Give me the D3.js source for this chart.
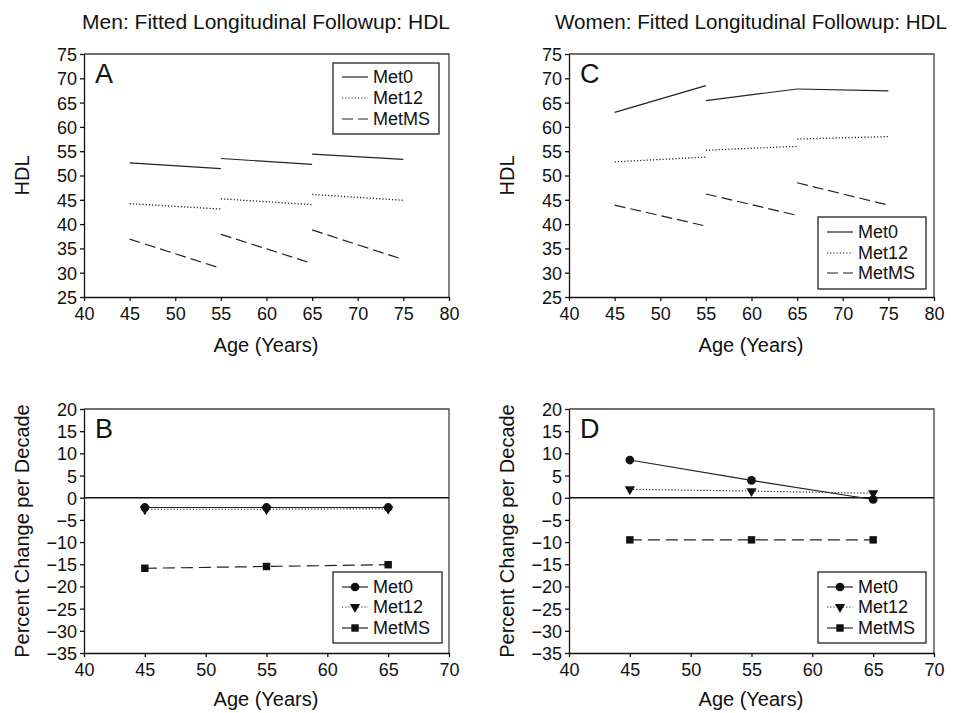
<!DOCTYPE html>
<html><head><meta charset="utf-8">
<script src="https://cdn.jsdelivr.net/npm/d3@7"></script>
<style>
body{margin:0;background:#fff;}
svg{display:block;font-family:Arial,"Liberation Sans",sans-serif;}
</style></head>
<body><svg id="c" width="954" height="713"></svg>
<script>
// ---------- data ----------
const segStartAge = [45, 55, 65];
const segEndAge = [55, 65, 75];
const menMet0Start = [52.6, 53.5, 54.4];
const menMet0End = [51.4, 52.3, 53.3];
const menMet12Start = [44.2, 45.2, 46.1];
const menMet12End = [43.1, 44.0, 44.9];
const menMetMSStart = [36.9, 37.9, 38.8];
const menMetMSEnd = [30.9, 31.9, 32.7];
const womenMet0Start = [63.0, 65.4, 67.8];
const womenMet0End = [68.5, 67.8, 67.4];
const womenMet12Start = [52.8, 55.2, 57.5];
const womenMet12End = [53.8, 56.0, 58.0];
const womenMetMSStart = [43.9, 46.2, 48.5];
const womenMetMSEnd = [39.6, 41.8, 43.9];
const decadeAges = [45, 55, 65];
const menPctMet0 = [-2.2, -2.2, -2.2];
const menPctMet12 = [-2.6, -2.6, -2.5];
const menPctMetMS = [-15.9, -15.5, -15.1];
const womenPctMet0 = [8.5, 3.9, -0.4];
const womenPctMet12 = [1.9, 1.5, 1.0];
const womenPctMetMS = [-9.5, -9.5, -9.5];
const seriesNames = ["Met0", "Met12", "MetMS"];
const hdlTicks = [25, 30, 35, 40, 45, 50, 55, 60, 65, 70, 75];
const pctTicks = [-35, -30, -25, -20, -15, -10, -5, 0, 5, 10, 15, 20];
const ageTicksTop = [40, 45, 50, 55, 60, 65, 70, 75, 80];
const ageTicksBottom = [40, 45, 50, 55, 60, 65, 70];
const titles = ["Men: Fitted Longitudinal Followup: HDL", "Women: Fitted Longitudinal Followup: HDL"];

// ---------- styles ----------
const dash = {Met0: null, Met12: "1.2,2", MetMS: "11,5"};
const ink = "#222";
const svg = d3.select("#c");

function frame(px, py, w, h, xDom, yDom, xT, yT) {
  const g = svg.append("g").attr("transform", `translate(${px},${py})`);
  const x = d3.scaleLinear().domain(xDom).range([0, w]);
  const y = d3.scaleLinear().domain(yDom).range([h, 0]);
  g.append("path").attr("d", `M0,0H${w}V${h}`).attr("fill", "none").attr("stroke", "#444").attr("stroke-width", 1.3);
  const ax = g.append("g").attr("transform", `translate(0,${h})`)
    .call(d3.axisBottom(x).tickValues(xT).tickSize(4).tickSizeOuter(0).tickPadding(6));
  const ay = g.append("g").call(d3.axisLeft(y).tickValues(yT).tickSize(4).tickSizeOuter(0).tickPadding(3));
  [ax, ay].forEach(a => {
    a.selectAll("path,line").attr("stroke", "#111").attr("stroke-width", 1.3);
    a.selectAll("text").attr("font-size", 18).attr("fill", "#111");
  });
  ay.selectAll("text").attr("dy", "0.36em");
  return {g, x, y};
}

function letter(p, t) {
  p.g.append("text").attr("x", 11).attr("y", 29).attr("font-size", 27).attr("fill", "#111").text(t);
}

function segmentsPanel(p, sets) {
  sets.forEach(([name, s, e]) => {
    segStartAge.forEach((a, i) => {
      p.g.append("line")
        .attr("x1", p.x(a)).attr("y1", p.y(s[i]))
        .attr("x2", p.x(segEndAge[i])).attr("y2", p.y(e[i]))
        .attr("stroke", ink).attr("stroke-width", name === "Met12" ? 1.3 : 1.2)
        .attr("stroke-dasharray", dash[name]);
    });
  });
}

const sym = {Met0: d3.symbolCircle, Met12: d3.symbolTriangle, MetMS: d3.symbolSquare};
const symSize = {Met0: 60, Met12: 45, MetMS: 55};
function marker(g, name, cx, cy) {
  g.append("path").attr("d", d3.symbol(sym[name], symSize[name])())
    .attr("transform", `translate(${cx},${cy})` + (name === "Met12" ? " rotate(180)" : ""))
    .attr("fill", "#111");
}

function pctPanel(p, sets) {
  p.g.append("line").attr("x1", 0).attr("x2", p.x.range()[1]).attr("y1", p.y(0)).attr("y2", p.y(0))
    .attr("stroke", "#111").attr("stroke-width", 1.3);
  const line = d3.line().x((d, i) => p.x(decadeAges[i])).y(d => p.y(d));
  sets.forEach(([name, v]) => {
    p.g.append("path").attr("d", line(v)).attr("fill", "none").attr("stroke", ink)
      .attr("stroke-width", 1.2).attr("stroke-dasharray", name === "MetMS" ? "12,6" : dash[name]);
  });
  sets.forEach(([name, v]) => {
    v.forEach((d, i) => marker(p.g, name, p.x(decadeAges[i]), p.y(d)));
  });
}

function legend(bx, by, bw, bh, rowY, withMarkers) {
  const g = svg.append("g");
  g.append("rect").attr("x", bx).attr("y", by).attr("width", bw).attr("height", bh)
    .attr("fill", "#fff").attr("stroke", "#333").attr("stroke-width", 1.4);
  seriesNames.forEach((n, i) => {
    const yy = rowY[i];
    g.append("line").attr("x1", bx + 9).attr("x2", bx + 35).attr("y1", yy).attr("y2", yy)
      .attr("stroke", ink).attr("stroke-width", 1.2)
      .attr("stroke-dasharray", withMarkers && n === "MetMS" ? null : dash[n]);
    if (withMarkers) marker(g, n, bx + 22, yy);
    g.append("text").attr("x", bx + 40).attr("y", yy).attr("dy", "0.36em")
      .attr("font-size", 18).attr("fill", "#111").text(n);
  });
}

function axisLabels(cx, xy, ly, cy, txt) {
  svg.append("text").attr("x", cx).attr("y", xy).attr("text-anchor", "middle")
    .attr("font-size", 20).attr("fill", "#111").text("Age (Years)");
  svg.append("text").attr("transform", `translate(${ly},${cy}) rotate(-90)`).attr("text-anchor", "middle")
    .attr("font-size", 20).attr("fill", "#111").text(txt);
}

// ---------- panels ----------
const W = 365, H = 243;
const A = frame(84, 54, W, H, [40, 80], [25, 75], ageTicksTop, hdlTicks);
const C = frame(569, 54, W, H, [40, 80], [25, 75], ageTicksTop, hdlTicks);
const B = frame(84, 409, W, 244, [40, 70], [-35, 20], ageTicksBottom, pctTicks);
const D = frame(569, 409, W, 244, [40, 70], [-35, 20], ageTicksBottom, pctTicks);

segmentsPanel(A, [["Met0", menMet0Start, menMet0End], ["Met12", menMet12Start, menMet12End], ["MetMS", menMetMSStart, menMetMSEnd]]);
segmentsPanel(C, [["Met0", womenMet0Start, womenMet0End], ["Met12", womenMet12Start, womenMet12End], ["MetMS", womenMetMSStart, womenMetMSEnd]]);
pctPanel(B, [["Met0", menPctMet0], ["Met12", menPctMet12], ["MetMS", menPctMetMS]]);
pctPanel(D, [["Met0", womenPctMet0], ["Met12", womenPctMet12], ["MetMS", womenPctMetMS]]);

letter(A, "A"); letter(B, "B"); letter(C, "C"); letter(D, "D");

legend(333, 63, 106, 71, [77, 98, 119], false);
legend(818, 217, 108, 72, [232, 253, 273], false);
legend(333, 572, 109, 71, [587, 607, 628], true);
legend(818, 572, 108, 71, [587, 607, 628], true);

axisLabels(266, 352, 29, 175.5, "HDL");
axisLabels(751, 352, 514, 175.5, "HDL");
axisLabels(266, 706, 29, 531, "Percent Change per Decade");
axisLabels(751, 706, 514, 531, "Percent Change per Decade");

[[266, titles[0], 368], [751, titles[1], 392]].forEach(([cx, t, len]) => {
  svg.append("text").attr("x", cx).attr("y", 29).attr("text-anchor", "middle")
    .attr("font-family", "'Liberation Sans Narrow','Arial Narrow',Arial,sans-serif")
    .attr("font-size", 20).attr("fill", "#111")
    .attr("textLength", len).attr("lengthAdjust", "spacingAndGlyphs").text(t);
});
</script></body></html>
